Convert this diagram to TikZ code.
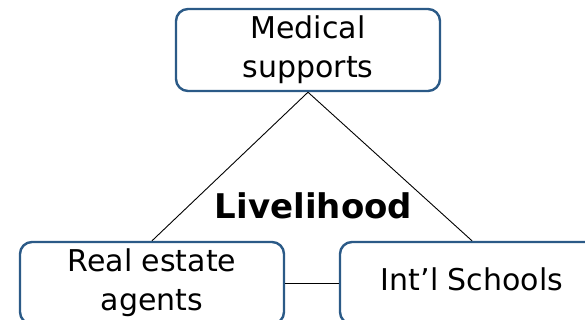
\documentclass[tikz,border=0pt]{standalone}
\usepackage{fontspec}
\setmainfont{DejaVu Sans}
\definecolor{boxblue}{HTML}{2B5A87}
\begin{document}
\begin{tikzpicture}[x=1pt,y=-1pt,
  topic/.style={draw=boxblue, line width=2.4pt, rounded corners=12pt, fill=white,
    minimum width=264pt, minimum height=82pt, inner sep=0pt, align=center,
    font=\fontsize{30}{39}\selectfont},
  link/.style={draw=black, line width=0.9pt}]
\useasboundingbox (0,0) rectangle (585,320);
\node[topic] (med) at (308,50) {Medical\\supports};
\node[topic] (rea) at (152,283) {Real estate\\agents};
\node[topic, text depth=8pt] (int) at (472,283) {Int’l Schools};
\node[font=\fontsize{34}{40}\selectfont\bfseries, anchor=base] (liv) at (313.5,218) {Livelihood};
\draw[link] (med.south) -- (rea.north);
\draw[link] (med.south) -- (int.north);
\draw[link] (rea.east) -- (int.west);
\end{tikzpicture}
\end{document}
